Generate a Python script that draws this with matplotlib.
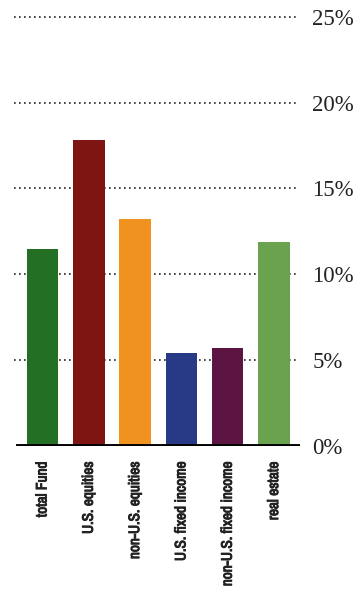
import matplotlib.pyplot as plt
import matplotlib.patheffects as pe
from matplotlib import font_manager

categories = ['total Fund', 'U.S. equities', 'non-U.S. equities',
              'U.S. fixed income', 'non-U.S. fixed income', 'real estate']
returns = [11.5, 17.8, 13.2, 5.4, 5.7, 11.9]
colors = ['#237025', '#7f1512', '#f0921f', '#283a85', '#5c1542', '#6aa24e']
ticks = [0, 5, 10, 15, 20, 25]
tick_labels = ['0%', '5%', '10%', '15%', '20%', '25%']

names = sorted({f.name for f in font_manager.fontManager.ttflist})
narrow = [n for n in names if 'Narrow' in n or 'Condensed' in n]
label_family = narrow + ['DejaVu Sans'] if narrow else ['DejaVu Sans']

fig = plt.figure(figsize=(3.63, 5.92), dpi=100)
ax = fig.add_axes([14 / 363, 1 - 446 / 592, 286 / 363, (446 - 15) / 592])

x = range(len(categories))
ax.bar(x, returns, width=0.68, color=colors, zorder=3)

# dotted gridlines, drawn by hand so they stop short of the labels
for t in ticks[1:]:
    ax.axhline(t, xmin=0, xmax=0.99, color='#222222', linestyle=(0, (1, 2)),
               linewidth=1.2, zorder=1)
ax.axhline(0, xmin=0.014, xmax=1.0, color='black', linewidth=2.8, zorder=4)

ax.set_xlim(-0.615, 5.56)
ax.set_ylim(0, 25.1)
for s in ax.spines.values():
    s.set_visible(False)

ax.yaxis.tick_right()
ax.set_yticks(ticks)
ax.set_yticklabels(tick_labels, family='Liberation Serif', fontsize=16.5,
                   color='#222222')
ax.tick_params(axis='y', length=0, pad=9)

ax.set_xticks(list(x))
ax.set_xticklabels(categories, rotation=90, va='top', ha='center',
                   family=label_family, fontstretch='condensed',
                   fontsize=11, fontweight='bold', color='#222222')
ax.tick_params(axis='x', length=0, pad=11)
# the narrow face has no bold, so thicken it a little
for lbl in ax.get_xticklabels():
    lbl.set_path_effects([pe.withStroke(linewidth=0.7, foreground='#222222')])

fig.savefig('out.png', dpi=100)
